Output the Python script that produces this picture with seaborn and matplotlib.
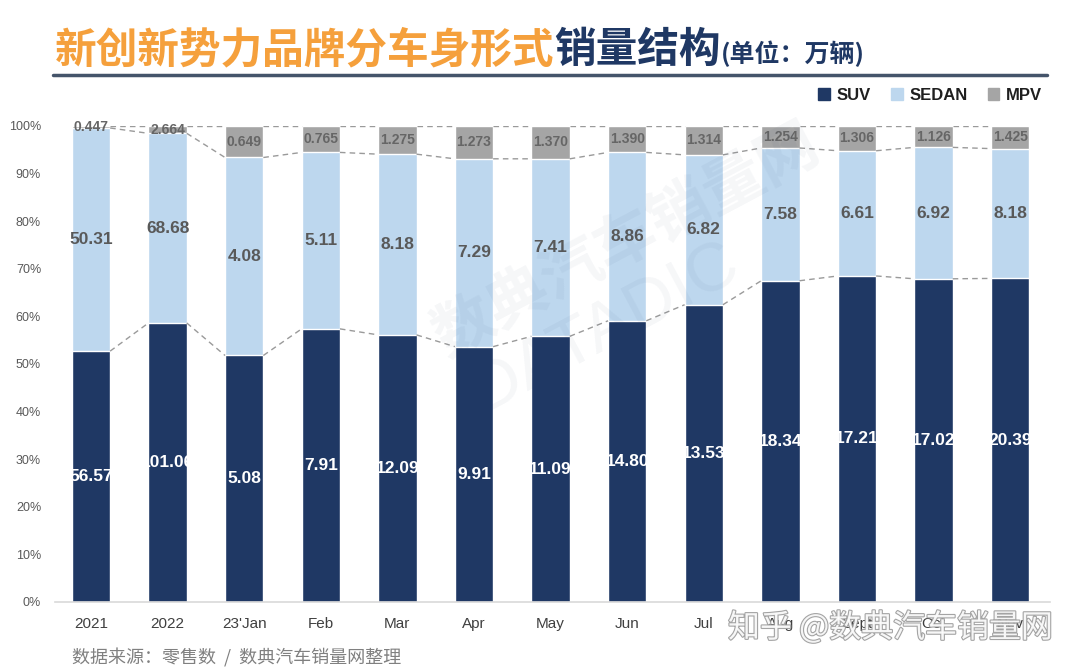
import matplotlib
matplotlib.use("Agg")
import matplotlib.pyplot as plt
import matplotlib.patheffects as pe
from matplotlib.patches import Patch
import seaborn as sns
import numpy as np
import pandas as pd

sns.set_theme(style="white")
plt.rcParams['font.family'] = ['Liberation Sans', 'Noto Sans CJK SC', 'DejaVu Sans']

# data (单位：万辆)
periods = ["2021", "2022", "23'Jan", "Feb", "Mar", "Apr", "May", "Jun", "Jul",
           "Aug", "Sept", "Oct", "Nov"]
suv = [56.57, 101.06, 5.08, 7.91, 12.09, 9.91, 11.09, 14.80, 13.53, 18.34, 17.21, 17.02, 20.39]
sedan = [50.31, 68.68, 4.08, 5.11, 8.18, 7.29, 7.41, 8.86, 6.82, 7.58, 6.61, 6.92, 8.18]
mpv = [0.447, 2.664, 0.649, 0.765, 1.275, 1.273, 1.370, 1.390, 1.314, 1.254, 1.306, 1.126, 1.425]

C_SUV = "#1F3864"
C_SEDAN = "#BDD7EE"
C_MPV = "#A5A5A5"
ORANGE = "#F5A03C"

df = pd.DataFrame({"period": periods, "suv": suv, "sedan": sedan, "mpv": mpv})
df["total"] = df[["suv", "sedan", "mpv"]].sum(axis=1)
df["p_suv"] = df["suv"] / df["total"] * 100
df["p_sedan"] = df["sedan"] / df["total"] * 100
df["p_mpv"] = df["mpv"] / df["total"] * 100
df["c1"] = df["p_suv"]
df["c2"] = df["p_suv"] + df["p_sedan"]
df["c3"] = df["c2"] + df["p_mpv"]

fig = plt.figure(figsize=(10.8, 6.69), dpi=100)
ax = fig.add_axes([55 / 1080, 67 / 669, 995 / 1080, 476 / 669])

W = 0.5
sns.barplot(data=df, x="period", y="c3", color=C_MPV, width=W, saturation=1, ax=ax)
sns.barplot(data=df, x="period", y="c2", color=C_SEDAN, width=W, saturation=1, ax=ax)
sns.barplot(data=df, x="period", y="c1", color=C_SUV, width=W, saturation=1, ax=ax)
suv_bars = ax.containers[-1]

# dashed series lines between bars
for col in ["c1", "c2", "c3"]:
    v = df[col].values
    for i in range(len(v) - 1):
        ax.plot([i + W / 2, i + 1 - W / 2], [v[i], v[i + 1]], ls=(0, (4, 3)),
                color="#9a9a9a", lw=1.0, zorder=3)

# value labels
for i, r in df.iterrows():
    t = ax.text(i, r["c1"] / 2, f"{r['suv']:.2f}", ha="center", va="center",
                color="white", fontsize=12.5, fontweight="bold", zorder=5)
    t.set_clip_path(suv_bars[i])
    ax.text(i, (r["c1"] + r["c2"]) / 2, f"{r['sedan']:.2f}", ha="center", va="center",
            color="#595959", fontsize=12.5, fontweight="bold", zorder=5)
    ax.text(i, (r["c2"] + r["c3"]) / 2, f"{r['mpv']:.3f}", ha="center", va="center",
            color="#666666", fontsize=10, fontweight="bold", zorder=5)

ax.set_xlim(-0.47, 12.52)
ax.set_ylim(0, 100)
ax.set_yticks(range(0, 101, 10))
ax.set_yticklabels([f"{v}%" for v in range(0, 101, 10)], color="#595959", fontsize=9)
ax.tick_params(axis="x", colors="#404040", labelsize=11, length=0, pad=11)
ax.tick_params(axis="y", length=0, pad=10)
ax.set_xlabel("")
ax.set_ylabel("")
for s in ["top", "right", "left"]:
    ax.spines[s].set_visible(False)
ax.spines["bottom"].set_color("#d9d9d9")
ax.spines["bottom"].set_linewidth(1.2)

# faint diagonal watermark
fig.text(0.58, 0.64, "数典汽车销量网", fontsize=44, color=C_SUV, alpha=0.045,
         rotation=28, ha="center", va="center", fontweight="bold",
         family=["Noto Sans CJK SC"])
fig.text(0.56, 0.51, "DATADIC", fontsize=50, color=C_SUV, alpha=0.045,
         rotation=28, ha="center", va="center")

# title pieces
fig.canvas.draw()
renderer = fig.canvas.get_renderer()
ty = 1 - 50 / 669
t1 = fig.text(55 / 1080, ty, "新创新势力品牌分车身形式", fontsize=30, color=ORANGE,
              fontweight="heavy", va="center", family=["Noto Sans CJK SC"])
bb = t1.get_window_extent(renderer)
t2 = fig.text(bb.x1 / fig.bbox.width, ty, "销量结构", fontsize=30, color=C_SUV,
              fontweight="heavy", va="center", family=["Noto Sans CJK SC"])
bb = t2.get_window_extent(renderer)
fig.text(bb.x1 / fig.bbox.width, ty - 0.006, "(单位：万辆)", fontsize=18, color=C_SUV,
         fontweight="bold", va="center", family=["Noto Sans CJK SC"])

# rule under title
fig.add_artist(plt.Line2D([53 / 1080, 1047 / 1080], [1 - 75 / 669, 1 - 75 / 669],
                          color="#44546A", lw=2.5, transform=fig.transFigure))

# legend
handles = [Patch(color=C_SUV, label="SUV"), Patch(color=C_SEDAN, label="SEDAN"),
           Patch(color=C_MPV, label="MPV")]
leg = fig.legend(handles=handles, loc="center right", bbox_to_anchor=(1042 / 1080, 1 - 95 / 669),
                 ncol=3, frameon=False, handlelength=0.7, handleheight=0.7,
                 handletextpad=0.4, columnspacing=1.2, borderaxespad=0, borderpad=0,
                 prop={"weight": "bold", "size": 12})
for t in leg.get_texts():
    t.set_color("#1F1F1F")

# footer
fig.text(72 / 1080, 1 - 658 / 669, "数据来源：零售数  /  数典汽车销量网整理", fontsize=13,
         color="#808080", va="center", family=["Noto Sans CJK SC"])

# zhihu watermark
fig.text(728 / 1080, 1 - 628 / 669, "知乎 @数典汽车销量网", fontsize=23, color="white",
         va="center", family=["Noto Sans CJK SC"], alpha=0.9,
         path_effects=[pe.withStroke(linewidth=1.6, foreground="#9a9a9a")])

fig.savefig("out.png", dpi=100)
